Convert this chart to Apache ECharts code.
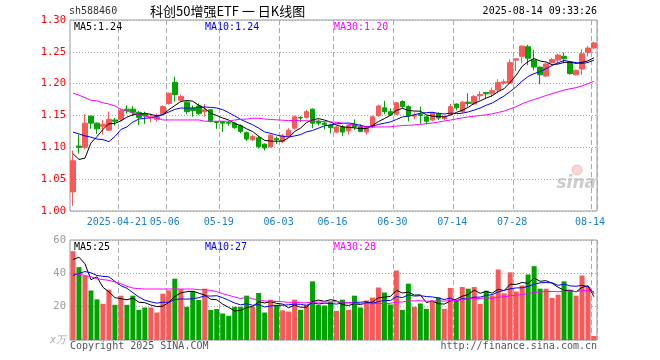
<!DOCTYPE html>
<html><head><meta charset="utf-8">
<script src="https://cdn.jsdelivr.net/npm/echarts@6/dist/echarts.min.js"></script>
<style>html,body{margin:0;padding:0;background:#fff}#c{width:660px;height:360px}</style>
</head><body><div id="c"></div>
<script>
// ---------- data ----------
const dates = [
'2025-04-09','2025-04-10','2025-04-11','2025-04-14','2025-04-15','2025-04-16','2025-04-17','2025-04-18',
'2025-04-21','2025-04-22','2025-04-23','2025-04-24','2025-04-25','2025-04-28','2025-04-29','2025-04-30',
'2025-05-06','2025-05-07','2025-05-08','2025-05-09','2025-05-12','2025-05-13','2025-05-14','2025-05-15','2025-05-16',
'2025-05-19','2025-05-20','2025-05-21','2025-05-22','2025-05-23','2025-05-26','2025-05-27','2025-05-28','2025-05-29','2025-05-30',
'2025-06-03','2025-06-04','2025-06-05','2025-06-06','2025-06-09','2025-06-10','2025-06-11','2025-06-12','2025-06-13',
'2025-06-16','2025-06-17','2025-06-18','2025-06-19','2025-06-20','2025-06-23','2025-06-24','2025-06-25','2025-06-26','2025-06-27',
'2025-06-30','2025-07-01','2025-07-02','2025-07-03','2025-07-04','2025-07-07','2025-07-08','2025-07-09','2025-07-10','2025-07-11',
'2025-07-14','2025-07-15','2025-07-16','2025-07-17','2025-07-18','2025-07-21','2025-07-22','2025-07-23','2025-07-24','2025-07-25',
'2025-07-28','2025-07-29','2025-07-30','2025-07-31','2025-08-01','2025-08-04','2025-08-05','2025-08-06','2025-08-07','2025-08-08',
'2025-08-11','2025-08-12','2025-08-13','2025-08-14'];

const openP = [1.030,1.102,1.100,1.149,1.138,1.133,1.127,1.143,1.144,1.160,1.160,1.155,1.153,1.146,1.144,1.153,1.169,1.202,1.174,1.171,
1.161,1.165,1.156,1.159,1.140,1.140,1.139,1.138,1.134,1.123,1.112,1.115,1.105,1.101,1.114,1.109,1.117,1.130,1.147,1.147,
1.160,1.141,1.138,1.135,1.124,1.132,1.126,1.136,1.132,1.124,1.132,1.150,1.162,1.156,1.152,1.172,1.164,1.149,1.152,1.148,
1.143,1.153,1.145,1.152,1.168,1.156,1.171,1.168,1.181,1.186,1.184,1.190,1.201,1.201,1.237,1.243,1.258,1.237,1.226,1.212,
1.233,1.237,1.243,1.234,1.214,1.223,1.249,1.256];
const closeP = [1.079,1.100,1.138,1.138,1.129,1.136,1.144,1.141,1.158,1.158,1.155,1.147,1.150,1.148,1.148,1.164,1.185,1.183,1.180,1.156,
1.158,1.153,1.159,1.141,1.139,1.138,1.138,1.131,1.125,1.113,1.117,1.101,1.099,1.119,1.112,1.118,1.127,1.148,1.146,1.156,
1.138,1.138,1.136,1.131,1.132,1.124,1.134,1.132,1.125,1.132,1.148,1.165,1.156,1.151,1.170,1.164,1.149,1.151,1.150,1.141,
1.154,1.146,1.148,1.164,1.162,1.171,1.169,1.180,1.183,1.184,1.189,1.202,1.203,1.233,1.239,1.259,1.240,1.226,1.214,1.231,
1.238,1.245,1.239,1.216,1.221,1.247,1.256,1.264];
const lowP = [1.008,1.090,1.097,1.129,1.121,1.120,1.126,1.134,1.141,1.153,1.149,1.135,1.137,1.139,1.140,1.152,1.167,1.172,1.172,1.152,
1.148,1.151,1.148,1.139,1.129,1.124,1.134,1.129,1.122,1.110,1.110,1.098,1.095,1.099,1.105,1.107,1.115,1.128,1.140,1.145,
1.130,1.134,1.128,1.122,1.122,1.118,1.120,1.127,1.124,1.120,1.130,1.148,1.152,1.150,1.151,1.161,1.141,1.144,1.137,1.136,
1.141,1.143,1.143,1.150,1.158,1.154,1.164,1.166,1.174,1.177,1.179,1.185,1.198,1.200,1.220,1.232,1.229,1.221,1.199,1.210,
1.232,1.232,1.232,1.214,1.213,1.214,1.243,1.255];
const highP = [1.095,1.120,1.152,1.150,1.139,1.143,1.156,1.146,1.160,1.166,1.165,1.157,1.156,1.153,1.153,1.166,1.186,1.211,1.183,1.173,
1.166,1.169,1.168,1.160,1.141,1.141,1.141,1.140,1.136,1.125,1.120,1.118,1.106,1.121,1.117,1.121,1.130,1.150,1.149,1.159,
1.161,1.144,1.140,1.137,1.134,1.135,1.136,1.144,1.136,1.134,1.150,1.167,1.173,1.161,1.171,1.174,1.166,1.155,1.164,1.150,
1.155,1.155,1.150,1.168,1.169,1.173,1.185,1.182,1.188,1.187,1.194,1.207,1.207,1.238,1.240,1.260,1.261,1.253,1.227,1.232,
1.240,1.247,1.249,1.235,1.222,1.254,1.259,1.266];

// volume in units of 10,000
const volume = [53.3,43.7,38.5,29.7,24.4,21.7,30.2,21.1,26.6,21.1,26.6,18.1,19.5,19.5,16.5,27.8,29.8,36.8,30.5,19.9,
29.4,24.0,30.8,18.1,18.6,15.9,14.5,19.9,19.9,26.6,19.9,28.2,16.5,24.2,21.1,17.8,17.1,24.2,18.1,21.1,
35.2,21.1,20.7,22.8,17.5,24.2,18.1,26.6,19.5,23.7,25.5,31.5,28.5,21.3,41.7,18.1,33.8,19.9,21.9,18.7,
22.8,25.6,18.7,31.2,24.0,31.8,30.8,31.8,21.7,29.6,26.7,42.3,28.0,40.6,29.1,32.7,39.3,44.3,30.8,30.8,
25.2,27.2,35.2,30.2,26.6,38.7,31.8,2.4];

const priceMA5Head = [1.090,1.081,1.083,1.107];
const priceMA10Head = [1.124,1.121,1.118,1.116,1.113,1.112,1.109,1.117,1.128];
const priceMA30Head = [1.185,1.182,1.178,1.174,1.173,1.170,1.168,1.165,1.160,1.157,1.154,1.151,1.149,1.147,1.146,1.143,1.143,1.143,1.143,1.143,1.143,1.143,1.141,1.141,1.141,1.141,1.141,1.143,1.144];
const volMA5Head = [48.3,49.7,45.7,36.2];
const volMA10Head = [38.7,39.9,41.1,40.3,38.7,38.2,37.9,35.2,32.6];
const volMA30Head = [39.9,39.5,38.7,37.9,36.8,36.2,35.8,34.8,33.8,32.2,31.2,30.8,30.6,30.6,30.6,30.6,30.6,30.6,30.6,30.6,30.6,30.2,30.2,29.8,29.0,27.8,26.8,25.8,24.9];

const tickDates = ['2025-04-21','2025-05-06','2025-05-19','2025-06-03','2025-06-16','2025-06-30','2025-07-14','2025-07-28','2025-08-14'];
const tickText  = ['2025-04-21','05-06','05-19','06-03','06-16','06-30','07-14','07-28','08-14'];

const legendPrice = ['MA5:1.24','MA10:1.24','MA30:1.20'];
const legendVol = ['MA5:25','MA10:27','MA30:28'];

// ---------- build ----------
function movingAvg(vals, n, head) {
  return vals.map((v, i) => {
    if (i < head.length) return head[i];
    let s = 0; for (let j = i - n + 1; j <= i; j++) s += vals[j];
    return s / n;
  });
}
const RED = '#f85a5a', GREEN = '#00a400';
const ohlc = dates.map((d, i) => [openP[i], closeP[i], lowP[i], highP[i]]);
const volData = volume.map((v, i) => ({ value: v, itemStyle: { color: closeP[i] >= openP[i] ? RED : GREEN } }));

const MONO = 'DejaVu Sans Mono';
const isTick = (idx, val) => tickDates.indexOf(val) >= 0;
const vSplit = { show: true, interval: isTick, lineStyle: { color: '#aaa', type: [5, 3], width: 1 } };

const G = { left: 70, right: 63 };
function txt(x, y, s, color, opts) {
  return Object.assign({ type: 'text', x: x, y: y, silent: true,
    style: Object.assign({ text: s, fill: color, font: '10px "' + MONO + '"', textAlign: 'left', textVerticalAlign: 'middle', align: 'left', verticalAlign: 'middle' }, opts || {}) });
}
const lineSeries = (data, color, xi) => ({ type: 'line', data: data, xAxisIndex: xi, yAxisIndex: xi, symbol: 'none', smooth: false,
  lineStyle: { color: color, width: 1 }, itemStyle: { color: color }, silent: true, z: 5 });

const option = {
  animation: false,
  backgroundColor: '#fff',
  grid: [
    { left: G.left, right: G.right, top: 20, height: 191, show: true, borderColor: '#999', borderWidth: 1 },
    { left: G.left, right: G.right, top: 240, height: 100, show: true, borderColor: '#999', borderWidth: 1 }
  ],
  xAxis: [
    { type: 'category', gridIndex: 0, data: dates, boundaryGap: true,
      axisLine: { show: false }, axisTick: { show: false },
      axisLabel: { interval: isTick, formatter: v => tickText[tickDates.indexOf(v)], color: '#1a80d0', fontFamily: MONO, fontSize: 10, margin: 6, padding: [0, 8, 0, 0] },
      splitLine: vSplit },
    { type: 'category', gridIndex: 1, data: dates, boundaryGap: true,
      axisLine: { show: false }, axisTick: { show: false }, axisLabel: { show: false },
      splitLine: vSplit }
  ],
  yAxis: [
    { type: 'value', gridIndex: 0, min: 1.0, max: 1.3, interval: 0.05, scale: true,
      axisLine: { show: false }, axisTick: { show: false },
      axisLabel: { color: '#ff0000', fontFamily: MONO, fontSize: 10.5, margin: 4, formatter: v => v.toFixed(2) },
      splitLine: { show: true, lineStyle: { color: '#aaa', type: [1, 2] } } },
    { type: 'value', gridIndex: 1, min: 0, max: 60, interval: 20,
      axisLine: { show: false }, axisTick: { show: false },
      axisLabel: { color: '#999', fontFamily: MONO, fontSize: 10.5, margin: 4,
        formatter: v => v === 0 ? '{u|x万}' : String(v),
        rich: { u: { color: '#aaa', fontStyle: 'italic', fontFamily: MONO, fontSize: 10 } } },
      splitLine: { show: true, lineStyle: { color: '#aaa', type: [1, 2] } } }
  ],
  series: [
    { type: 'candlestick', xAxisIndex: 0, yAxisIndex: 0, data: ohlc, barWidth: 5,
      itemStyle: { color: RED, color0: GREEN, borderColor: RED, borderColor0: GREEN, borderWidth: 1 }, silent: true },
    lineSeries(movingAvg(closeP, 5, priceMA5Head), '#000000', 0),
    lineSeries(movingAvg(closeP, 10, priceMA10Head), '#0000ff', 0),
    lineSeries(movingAvg(closeP, 30, priceMA30Head), '#ff00ff', 0),
    { type: 'bar', xAxisIndex: 1, yAxisIndex: 1, data: volData, barWidth: 5, silent: true },
    lineSeries(movingAvg(volume, 5, volMA5Head), '#000000', 1),
    lineSeries(movingAvg(volume, 10, volMA10Head), '#0000ff', 1),
    lineSeries(movingAvg(volume, 30, volMA30Head), '#ff00ff', 1)
  ],
  graphic: [
    txt(69, 11, 'sh588460', '#333'),
    txt(150, 11, '科创50增强ETF 一 日K线图', '#000', { font: '13px "Noto Sans CJK SC"' }),
    txt(597, 11, '2025-08-14 09:33:26', '#000', { textAlign: 'right', align: 'right' }),
    txt(74, 27, legendPrice[0], '#000'),
    txt(205, 27, legendPrice[1], '#0000ff'),
    txt(334, 27, legendPrice[2], '#ff00ff'),
    txt(74, 247, legendVol[0], '#000'),
    txt(205, 247, legendVol[1], '#0000ff'),
    txt(334, 247, legendVol[2], '#ff00ff'),
    txt(70, 346, 'Copyright 2025 SINA.COM', '#555'),
    txt(597, 346, 'http://finance.sina.com.cn', '#555', { textAlign: 'right', align: 'right' }),
    { type: 'circle', shape: { cx: 577, cy: 170, r: 5 }, style: { fill: 'rgba(240,140,140,0.35)', stroke: 'rgba(240,140,140,0.5)' }, silent: true },
    txt(596, 184, 'sina', 'rgba(170,170,170,0.6)', { font: 'italic bold 17px "DejaVu Sans"', textAlign: 'right', align: 'right' })
  ]
};
const chart = echarts.init(document.getElementById('c'), null, { renderer: 'canvas' });
chart.setOption(option);
</script>
</body></html>
